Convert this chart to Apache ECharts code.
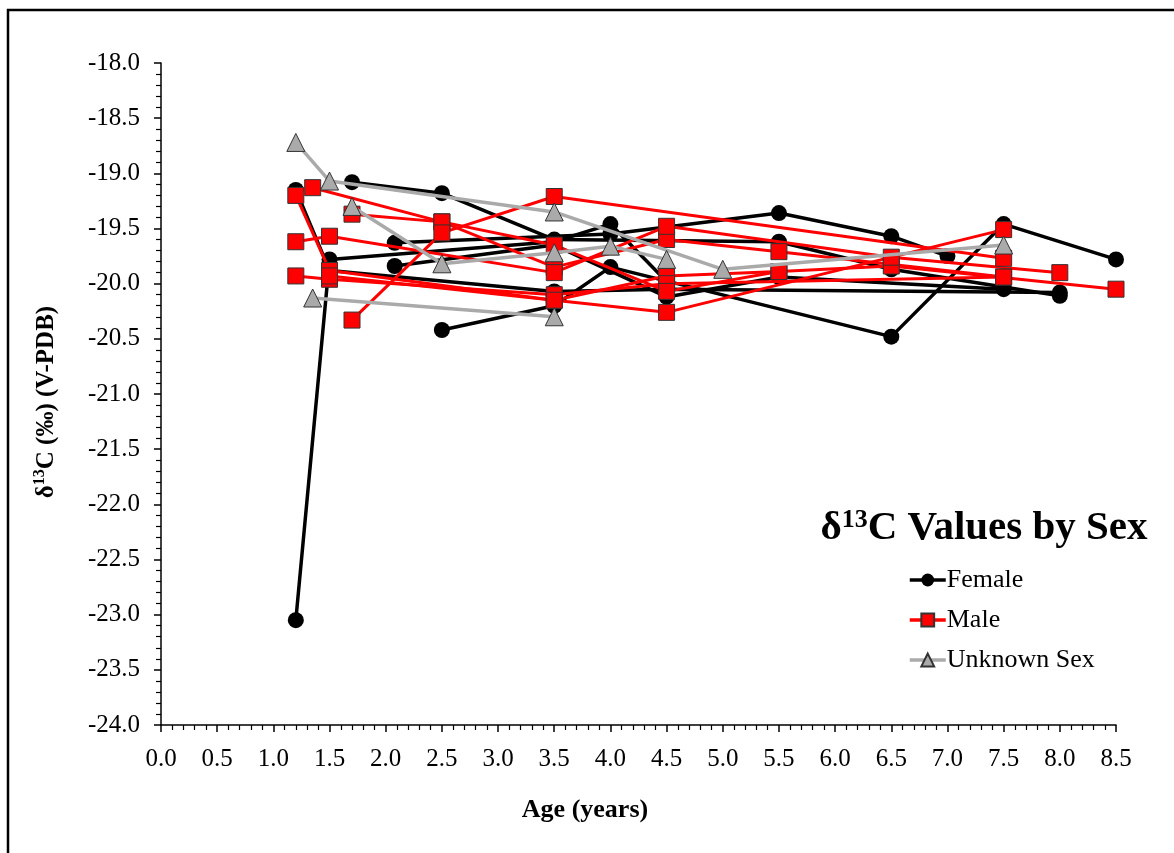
<!DOCTYPE html>
<html>
<head>
<meta charset="utf-8">
<script src="https://cdn.jsdelivr.net/npm/echarts@6/dist/echarts.min.js"></script>
<style>html,body{margin:0;padding:0;background:#fff}#c{width:1174px;height:853px}</style>
</head>
<body>
<div id="c"></div>
<script>
// Female individuals: [age (years), d13C]
const F1 = [[1.2,-23.05],[1.5,-19.78],[3.5,-19.62],[4.0,-19.46],[4.5,-19.98]];
const F2 = [[1.2,-19.15],[1.5,-19.88],[3.5,-20.07],[4.5,-20.05],[8.0,-20.08]];
const F3 = [[1.7,-19.08],[2.5,-19.18],[3.5,-19.6],[5.5,-19.62],[6.5,-19.87],[7.5,-20.03],[8.0,-20.11]];
const F4 = [[2.08,-19.63],[4.0,-19.55],[5.5,-19.36],[6.5,-19.57],[7.0,-19.75]];
const F5 = [[2.08,-19.84],[3.5,-19.65],[4.5,-20.12],[5.5,-19.94],[7.5,-20.05]];
const F6 = [[2.5,-20.42],[3.5,-20.2],[4.0,-19.85],[6.5,-20.48],[7.5,-19.46],[8.5,-19.78]];
// Male individuals
const M1 = [[1.2,-19.2],[1.5,-19.88],[3.5,-20.15],[4.5,-19.93],[5.5,-19.89],[6.5,-19.84],[8.5,-20.05]];
const M2 = [[1.35,-19.13],[2.5,-19.44],[3.5,-19.85],[4.5,-19.6],[5.5,-19.71],[7.5,-19.94]];
const M3 = [[1.2,-19.62],[1.5,-19.57],[3.5,-19.9],[4.5,-19.48],[6.5,-19.76],[8.0,-19.9]];
const M4 = [[1.2,-19.93],[1.5,-19.96],[3.5,-20.1],[4.5,-20.0],[7.5,-19.94]];
const M5 = [[1.7,-19.37],[2.5,-19.44],[3.5,-19.65],[4.5,-20.07],[5.5,-19.89]];
const M6 = [[1.7,-20.33],[2.5,-19.54],[3.5,-19.21],[7.5,-19.77]];
const M7 = [[1.5,-19.93],[3.5,-20.15],[4.5,-20.26],[7.5,-19.51]];
// Unknown sex individuals
const U1 = [[1.2,-18.72],[1.5,-19.07],[3.5,-19.35],[5.0,-19.87],[7.5,-19.65]];
const U2 = [[1.7,-19.3],[2.5,-19.82],[3.5,-19.72],[4.0,-19.66],[4.5,-19.78]];
const U3 = [[1.35,-20.13],[3.5,-20.3]];

const femaleSets = [F1,F2,F3,F4,F5,F6];
const maleSets = [M1,M2,M3,M4,M5,M6,M7];
const unknownSets = [U1,U2,U3];

const FONT = '"Liberation Serif","Times New Roman",serif';

function mk(name, data, color, sym, symColor, symSize, lw, z) {
  return {
    type: 'line', name: name, data: data, z: z,
    symbol: sym, symbolSize: symSize, showSymbol: true,
    lineStyle: {color: color, width: lw},
    itemStyle: {color: symColor, borderColor: sym === 'circle' ? symColor : '#333', borderWidth: sym === 'circle' ? 0 : 1},
    emphasis: {disabled: true}, animation: false
  };
}
const series = [];
femaleSets.forEach(d => series.push(mk('Female', d, '#000', 'circle', '#000', 16, 3.5, 2)));
maleSets.forEach(d => series.push(mk('Male', d, '#ff0000', 'rect', '#ff0000', 16, 3, 3)));
unknownSets.forEach(d => series.push(mk('Unknown Sex', d, '#aaaaaa', 'triangle', '#aaaaaa', 18, 3.5, 4)));

const chart = echarts.init(document.getElementById('c'), null, {renderer: 'canvas'});
chart.setOption({
  backgroundColor: '#fff',
  animation: false,
  grid: {left: 161, right: 58, top: 63, bottom: 128, containLabel: false},
  xAxis: {
    type: 'value', min: 0, max: 8.5, interval: 0.5,
    axisLine: {show: true, onZero: false, lineStyle: {color: '#000', width: 1.5}},
    axisTick: {show: true, inside: false, length: 7, lineStyle: {color: '#000', width: 1.5}},
    minorTick: {show: true, splitNumber: 5, length: 5, lineStyle: {color: '#000', width: 1.2}},
    axisLabel: {fontFamily: FONT, fontSize: 25, color: '#000', margin: 22, formatter: v => v.toFixed(1)},
    splitLine: {show: false}
  },
  yAxis: {
    type: 'value', min: -24, max: -18, interval: 0.5,
    axisLine: {show: true, onZero: false, lineStyle: {color: '#000', width: 1.5}},
    axisTick: {show: true, inside: false, length: 7, lineStyle: {color: '#000', width: 1.5}},
    minorTick: {show: true, splitNumber: 5, length: 5, lineStyle: {color: '#000', width: 1.2}},
    axisLabel: {fontFamily: FONT, fontSize: 25, color: '#000', margin: 21, formatter: v => v.toFixed(1)},
    splitLine: {show: false}
  },
  legend: {
    orient: 'vertical', left: 903, top: 562, itemGap: 14,
    itemWidth: 36, itemHeight: 16,
    data: ['Female', 'Male', 'Unknown Sex'],
    lineStyle: {width: 3.5},
    textStyle: {fontFamily: FONT, fontSize: 26, color: '#000', padding: [0,0,0,-4]},
    selectedMode: false
  },
  graphic: [
    {type: 'rect', shape: {x: 8, y: 10, width: 1180, height: 860}, style: {fill: 'none', stroke: '#000', lineWidth: 2.5}, z: 0, silent: true},
    {type: 'text', x: 984, y: 527, z: 10, style: {
      text: '{b|δ}{s|13}{b|C Values by Sex}', align: 'center', verticalAlign: 'middle',
      rich: {
        b: {font: 'bold 41px ' + FONT, fill: '#000', lineHeight: 44, verticalAlign: 'bottom'},
        s: {font: 'bold 26px ' + FONT, fill: '#000', lineHeight: 44, verticalAlign: 'top', padding: [2,0,0,0]}
      }}},
    {type: 'text', x: 585, y: 810, z: 10, style: {
      text: 'Age (years)', align: 'center', verticalAlign: 'middle', font: 'bold 26px ' + FONT, fill: '#000'}},
    {type: 'text', x: 45, y: 402, rotation: Math.PI / 2, z: 10, style: {
      text: '{b|δ}{s|13}{b|C (‰) (V-PDB)}', align: 'center', verticalAlign: 'middle',
      rich: {
        b: {font: 'bold 25px ' + FONT, fill: '#000', lineHeight: 28, verticalAlign: 'bottom'},
        s: {font: 'bold 16px ' + FONT, fill: '#000', lineHeight: 28, verticalAlign: 'top', padding: [1,0,0,0]}
      }}}
  ],
  series: series
});
</script>
</body>
</html>
